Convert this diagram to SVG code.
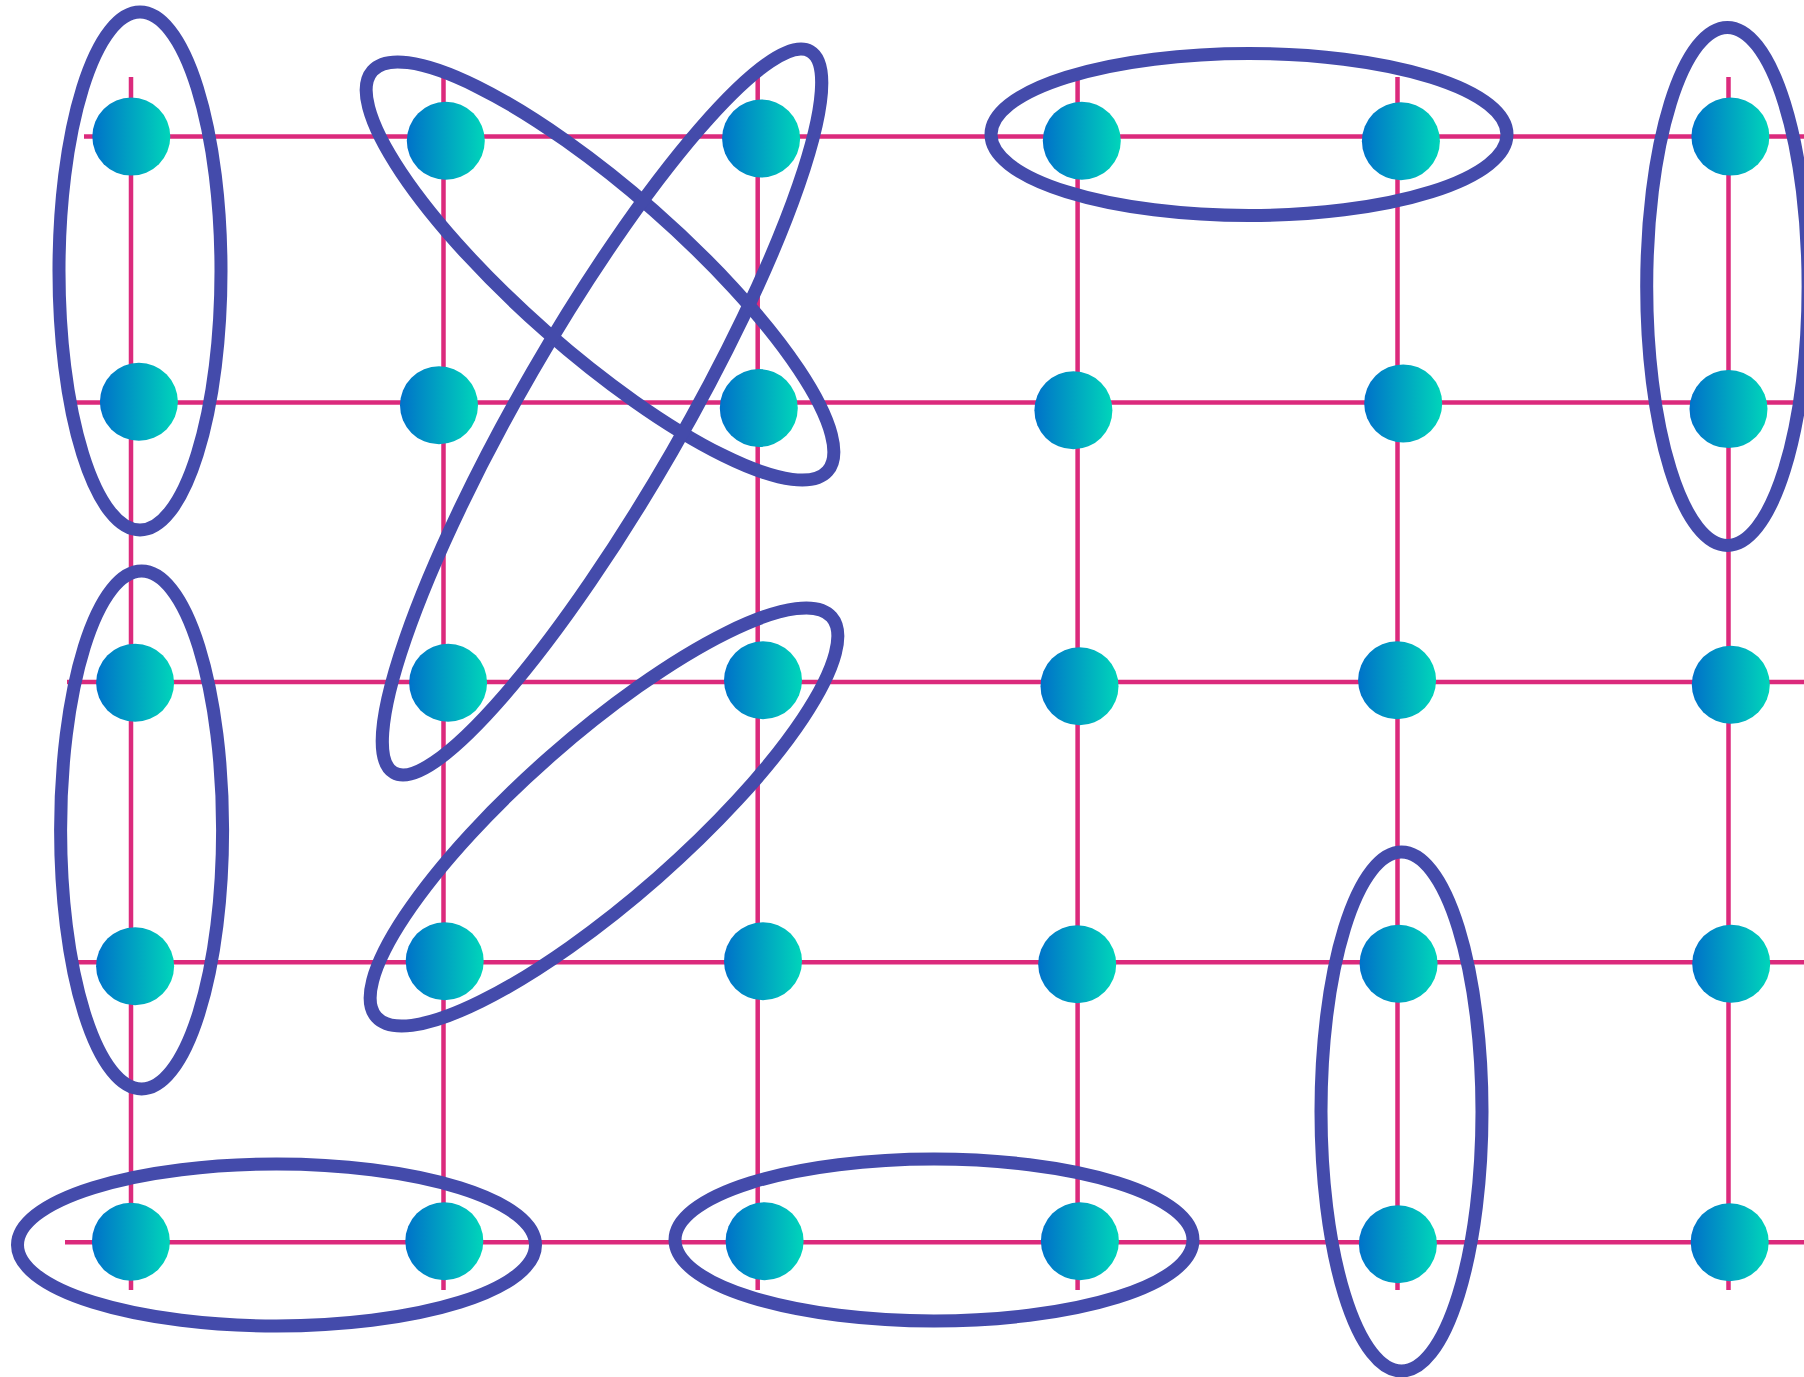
<svg xmlns="http://www.w3.org/2000/svg" width="1804" height="1377" viewBox="0 0 1804 1377">
  <defs>
    <linearGradient id="ng" x1="0" y1="0" x2="1" y2="0">
      <stop offset="0" stop-color="#0072C9"/>
      <stop offset="1" stop-color="#00D5BA"/>
    </linearGradient>
    <style>
      .ln { stroke: #DB2A7C; stroke-width: 4.5; fill: none; }
      .nd { fill: url(#ng); }
      .el { fill: none; stroke: #444BAB; stroke-width: 13; }
    </style>
  </defs>
  <rect width="1804" height="1377" fill="#ffffff"/>

  <g id="connectors">
    <line class="ln" x1="131" y1="77" x2="131" y2="1290"/>
    <line class="ln" x1="443.5" y1="77" x2="443.5" y2="1290"/>
    <line class="ln" x1="757.7" y1="77" x2="757.7" y2="1290"/>
    <line class="ln" x1="1077.6" y1="77" x2="1077.6" y2="1290"/>
    <line class="ln" x1="1397.5" y1="77" x2="1397.5" y2="1290"/>
    <line class="ln" x1="1728.5" y1="77" x2="1728.5" y2="1290"/>
    <line class="ln" x1="84" y1="136.5" x2="1804" y2="136.5"/>
    <line class="ln" x1="75" y1="402.6" x2="1804" y2="402.6"/>
    <line class="ln" x1="67" y1="682" x2="1804" y2="682"/>
    <line class="ln" x1="75" y1="962.2" x2="1804" y2="962.2"/>
    <line class="ln" x1="65" y1="1242.2" x2="1804" y2="1242.2"/>
  </g>

  <g id="nodes">
    <g id="n-1-1"><circle class="nd" cx="131.3" cy="136.6" r="39"/></g>
    <g id="n-1-2"><circle class="nd" cx="445.8" cy="140.8" r="39"/></g>
    <g id="n-1-3"><circle class="nd" cx="761.1" cy="138.5" r="39"/></g>
    <g id="n-1-4"><circle class="nd" cx="1081.8" cy="140.8" r="39"/></g>
    <g id="n-1-5"><circle class="nd" cx="1400.9" cy="141.2" r="39"/></g>
    <g id="n-1-6"><circle class="nd" cx="1730.4" cy="136.6" r="39"/></g>

    <g id="n-2-1"><circle class="nd" cx="138.9" cy="401.8" r="39"/></g>
    <g id="n-2-2"><circle class="nd" cx="439" cy="405.3" r="39"/></g>
    <g id="n-2-3"><circle class="nd" cx="758.8" cy="408" r="39"/></g>
    <g id="n-2-4"><circle class="nd" cx="1073.4" cy="410.3" r="39"/></g>
    <g id="n-2-5"><circle class="nd" cx="1403.2" cy="403.4" r="39"/></g>
    <g id="n-2-6"><circle class="nd" cx="1728.5" cy="409.1" r="39"/></g>

    <g id="n-3-1"><circle class="nd" cx="135.1" cy="682.8" r="39"/></g>
    <g id="n-3-2"><circle class="nd" cx="448.1" cy="682.8" r="39"/></g>
    <g id="n-3-3"><circle class="nd" cx="763" cy="680.3" r="39"/></g>
    <g id="n-3-4"><circle class="nd" cx="1079.5" cy="686.2" r="39"/></g>
    <g id="n-3-5"><circle class="nd" cx="1397.1" cy="680.3" r="39"/></g>
    <g id="n-3-6"><circle class="nd" cx="1730.8" cy="684.7" r="39"/></g>

    <g id="n-4-1"><circle class="nd" cx="135.1" cy="966.2" r="39"/></g>
    <g id="n-4-2"><circle class="nd" cx="444.7" cy="961.2" r="39"/></g>
    <g id="n-4-3"><circle class="nd" cx="763" cy="961.2" r="39"/></g>
    <g id="n-4-4"><circle class="nd" cx="1077.2" cy="964.2" r="39"/></g>
    <g id="n-4-5"><circle class="nd" cx="1398.6" cy="963.7" r="39"/></g>
    <g id="n-4-6"><circle class="nd" cx="1731.2" cy="963.7" r="39"/></g>

    <g id="n-5-1"><circle class="nd" cx="130.9" cy="1241.7" r="39"/></g>
    <g id="n-5-2"><circle class="nd" cx="444.3" cy="1241.2" r="39"/></g>
    <g id="n-5-3"><circle class="nd" cx="764.6" cy="1241.2" r="39"/></g>
    <g id="n-5-4"><circle class="nd" cx="1079.9" cy="1241.2" r="39"/></g>
    <g id="n-5-5"><circle class="nd" cx="1397.9" cy="1244.2" r="39"/></g>
    <g id="n-5-6"><circle class="nd" cx="1729.7" cy="1242.2" r="39"/></g>
  </g>

  <g id="groups">
    <g id="g-col1-top"><ellipse class="el" cx="140" cy="271" rx="81" ry="259"/></g>
    <g id="g-col1-mid"><ellipse class="el" cx="141.6" cy="830" rx="81" ry="259"/></g>
    <g id="g-col6-top"><ellipse class="el" cx="1727.4" cy="286.4" rx="80.7" ry="259"/></g>
    <g id="g-col5-bot"><ellipse class="el" cx="1401.5" cy="1111.5" rx="80.5" ry="259.5"/></g>
    <g id="g-row1-right"><ellipse class="el" cx="1249" cy="134.5" rx="258" ry="81"/></g>
    <g id="g-row5-left"><ellipse class="el" cx="276.5" cy="1245" rx="259" ry="81"/></g>
    <g id="g-row5-mid"><ellipse class="el" cx="934" cy="1240" rx="259" ry="81"/></g>
    <g id="g-diag-a"><ellipse class="el" cx="600" cy="271" rx="303" ry="81" transform="rotate(41.3 600 271)"/></g>
    <g id="g-diag-b"><ellipse class="el" cx="602" cy="412" rx="416.5" ry="80.5" transform="rotate(-60 602 412)"/></g>
    <g id="g-diag-c"><ellipse class="el" cx="604" cy="817" rx="303" ry="81" transform="rotate(-41.3 604 817)"/></g>
  </g>
</svg>
